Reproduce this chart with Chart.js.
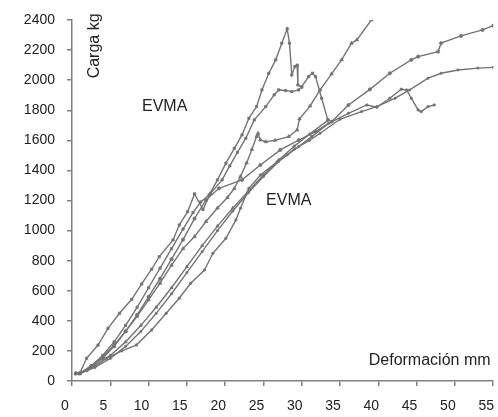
<!DOCTYPE html>
<html>
<head>
<meta charset="utf-8">
<script src="https://cdn.jsdelivr.net/npm/chart.js@4"></script>
<style>
  html, body { margin: 0; padding: 0; background: #fff; }
</style>
</head>
<body>
<canvas id="chart" width="498" height="417"></canvas>
<script>
// deformation (mm) and load (kg), one pair of arrays per test curve
const peakX = [0.5, 1, 2.5, 4, 5.5, 7, 8.5, 10, 11.5, 13, 14.5, 15.8, 16.8, 17.9, 19, 20.1, 21.2, 22.2, 23.1, 24.1, 24.8, 25.7, 26.6, 27.4, 28.1, 28.4, 28.7, 29.1, 29.4, 29.5, 30];
const peakY = [50, 50, 100, 170, 260, 370, 490, 620, 750, 880, 1010, 1120, 1190, 1237, 1337, 1448, 1547, 1636, 1747, 1824, 1935, 2046, 2135, 2246, 2341, 2246, 2035, 2090, 2100, 1968, 1953];

const plateauX = [0.5, 1, 1.9, 3.4, 4.7, 6.2, 7.8, 9.1, 10.4, 11.4, 13.2, 14, 15.1, 16, 17.1, 18.1, 19.6, 20.6, 21.6, 22.7, 23.8, 25.3, 26.4, 27, 27.9, 28.7, 29.6, 30, 30.9, 31.4, 31.8, 32.6, 33.4];
const plateauY = [50, 50, 151, 239, 350, 450, 543, 645, 743, 827, 938, 1037, 1126, 1244, 1140, 1248, 1337, 1430, 1520, 1614, 1736, 1824, 1902, 1935, 1931, 1924, 1935, 1957, 2024, 2046, 2024, 1880, 1736];

const straightX = [0.5, 1, 2.5, 4, 5.5, 7, 8.5, 10, 11.5, 13, 14.5, 16, 17.5, 19, 20.3, 21.2, 22, 22.8, 23.5, 24.1, 24.3, 24.6, 25.3, 26.5, 28.3, 29.4, 29.7, 31.1, 32.4, 33.9, 35.2, 36.5, 37.2, 39.1, 39.7];
const straightY = [50, 50, 100, 160, 240, 330, 430, 540, 650, 770, 880, 960, 1060, 1150, 1220, 1280, 1360, 1450, 1540, 1625, 1647, 1603, 1591, 1600, 1625, 1669, 1742, 1829, 1935, 2042, 2135, 2246, 2268, 2401, 2439];

const upperX = [0.5, 1, 2.5, 4, 5.5, 7, 8.5, 10, 11.5, 13, 14.5, 16, 17.5, 19.2, 22.2, 24.6, 27.2, 29.6, 31.8, 33.9, 36.1, 38.9, 41.5, 44.3, 45.2, 47.8, 48.2, 50.8, 53.6, 55];
const upperY = [50, 50, 95, 150, 230, 330, 440, 560, 680, 810, 940, 1080, 1204, 1281, 1337, 1436, 1536, 1602, 1658, 1724, 1835, 1939, 2046, 2135, 2157, 2190, 2246, 2294, 2334, 2362];

const middleX = [0.5, 1, 3, 5, 7, 9, 11, 13, 15, 17, 19, 21, 23, 25, 27, 29, 31, 33.5];
const middleY = [50, 50, 100, 170, 260, 370, 490, 620, 760, 900, 1030, 1150, 1260, 1370, 1470, 1560, 1640, 1736];

const lowerX = [0.5, 1, 3, 5, 7, 9, 11, 13, 15, 17, 19, 21, 23, 25, 27, 29, 31, 32.4, 35, 37.8, 39.8, 42.2, 44.1, 46.5, 48.2, 50.4, 53, 55];
const lowerY = [50, 50, 90, 150, 230, 330, 450, 580, 720, 860, 1000, 1130, 1250, 1360, 1460, 1540, 1600, 1647, 1740, 1791, 1824, 1880, 1935, 2013, 2046, 2068, 2080, 2085];

const dropX = [0.5, 1, 2, 4.5, 6.5, 8.4, 10.4, 12.3, 14, 15.5, 17.3, 18.4, 20.1, 21.4, 22, 23.1, 24.6, 26.8, 28.1, 29.6, 31.3, 33.5, 36.1, 38.5, 39.8, 41.5, 43, 43.7, 44.3, 45.2, 45.6, 46.5, 47.3];
const dropY = [50, 50, 70, 151, 200, 239, 339, 450, 550, 650, 738, 849, 949, 1071, 1148, 1281, 1370, 1458, 1503, 1558, 1625, 1713, 1780, 1835, 1820, 1880, 1940, 1935, 1880, 1802, 1791, 1824, 1835];

const xTicks = [0, 5, 10, 15, 20, 25, 30, 35, 40, 45, 50, 55];
const yTicks = [0, 200, 400, 600, 800, 1000, 1200, 1400, 1600, 1800, 2000, 2200, 2400];

const notes = [
  { text: 'EVMA', x: 12.1, y: 1822 },
  { text: 'EVMA', x: 28.3, y: 1197 },
  { text: 'Deformación mm', x: 46.7, y: 133 }
];

const grey = '#747474';
const font = '"Liberation Sans", Arial, sans-serif';

function series(xs, ys, shape, radius) {
  return {
    data: xs.map((x, i) => ({ x: x, y: ys[i] })),
    showLine: true,
    borderColor: grey,
    backgroundColor: grey,
    borderWidth: 1.4,
    pointStyle: shape,
    pointRadius: radius,
    pointBorderWidth: 0.8,
    tension: 0
  };
}

const textPlugin = {
  id: 'texts',
  afterDraw(chart) {
    const { ctx, scales: { x, y } } = chart;
    ctx.save();
    ctx.fillStyle = '#222';
    ctx.font = '16px ' + font;
    ctx.textAlign = 'center';
    ctx.textBaseline = 'middle';
    notes.forEach(n => ctx.fillText(n.text, x.getPixelForValue(n.x), y.getPixelForValue(n.y)));
    // vertical axis name sits inside the plot, read bottom to top
    ctx.translate(x.getPixelForValue(3), y.getPixelForValue(2228));
    ctx.rotate(-Math.PI / 2);
    ctx.fillText('Carga kg', 0, 0);
    ctx.restore();
  }
};

new Chart(document.getElementById('chart').getContext('2d'), {
  type: 'scatter',
  data: {
    datasets: [
      series(peakX, peakY, 'rect', 1.6),
      series(plateauX, plateauY, 'rect', 1.6),
      series(straightX, straightY, 'triangle', 2),
      series(upperX, upperY, 'circle', 1.6),
      series(middleX, middleY, 'triangle', 1.8),
      series(lowerX, lowerY, 'rect', 1.3),
      series(dropX, dropY, 'circle', 1.2)
    ]
  },
  options: {
    responsive: false,
    devicePixelRatio: 1,
    animation: false,
    layout: { padding: { top: 20, right: 2, left: 0, bottom: 0 } },
    plugins: {
      legend: { display: false },
      tooltip: { enabled: false }
    },
    scales: {
      x: {
        type: 'linear',
        min: 0,
        max: 55,
        afterBuildTicks: s => { s.ticks = xTicks.map(v => ({ value: v })); },
        afterFit: s => { s.height = 36; s.paddingLeft = 0; s.paddingRight = 0; },
        border: { color: '#808080', width: 1.5 },
        grid: { drawOnChartArea: false, drawTicks: true, tickLength: 5, color: '#808080', lineWidth: 1.5 },
        ticks: { color: '#222', font: { family: font, size: 14 }, padding: 12, labelOffset: -7, maxRotation: 0, callback: v => String(v) }
      },
      y: {
        type: 'linear',
        min: 0,
        max: 2400,
        afterBuildTicks: s => { s.ticks = yTicks.map(v => ({ value: v })); },
        afterFit: s => { s.width = 72; s.paddingTop = 0; s.paddingBottom = 0; },
        border: { color: '#808080', width: 1.5 },
        grid: { drawOnChartArea: false, drawTicks: true, tickLength: 5, color: '#808080', lineWidth: 1.5 },
        ticks: { color: '#222', font: { family: font, size: 14 }, padding: 12, callback: v => String(v) }
      }
    }
  },
  plugins: [textPlugin]
});
</script>
</body>
</html>
